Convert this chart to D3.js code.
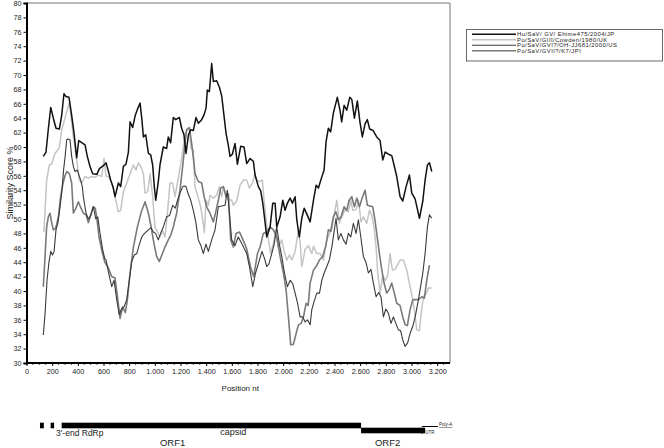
<!DOCTYPE html>
<html><head><meta charset="utf-8">
<script src="https://cdn.jsdelivr.net/npm/d3@7"></script>
<style>html,body{margin:0;padding:0;background:#fff;}svg{display:block;font-family:"Liberation Sans",Arial,sans-serif;}</style>
</head><body>
<svg id="c" width="664" height="448"></svg>
<script>
const seriesNames = ["Hu/SaV/ GV/ Ehime475/2004/JP","Po/SaV/GIII/Cowden/1980/UK","Po/SaV/GVI?/OH-JJ681/2000/US","Po/SaV/GVII?/K7/JPI"];
const yTicks = d3.range(30, 81, 2);
const xTicks = d3.range(0, 3201, 200);
const ehime = [[131,58.7],[152,59.3],[170,62.5],[189,65.5],[209,64.0],[230,62.6],[256,62.5],[274,64.4],[292,67.4],[308,67.0],[331,66.9],[352,64.4],[370,62.0],[391,58.5],[407,60.9],[430,60.6],[456,60.3],[474,58.7],[495,57.3],[516,56.3],[548,56.2],[568,57.0],[599,57.4],[620,57.8],[637,56.7],[656,55.4],[677,54.3],[690,53.1],[716,55.0],[734,54.5],[755,57.3],[775,57.6],[794,59.3],[807,63.5],[827,62.7],[846,64.3],[866,65.3],[885,66.1],[898,64.0],[911,61.4],[929,61.7],[950,59.1],[968,58.9],[983,57.5],[996,54.5],[1007,52.6],[1027,55.2],[1040,57.5],[1066,60.0],[1092,59.8],[1105,61.4],[1123,60.6],[1144,64.1],[1163,63.8],[1191,64.1],[1209,62.6],[1227,61.7],[1243,59.1],[1262,61.7],[1280,62.4],[1300,62.3],[1321,64.1],[1339,63.3],[1365,63.8],[1384,64.5],[1399,65.4],[1409,67.9],[1425,67.7],[1443,71.6],[1456,69.1],[1482,69.2],[1503,68.3],[1521,67.1],[1538,64.5],[1555,61.9],[1573,60.2],[1586,58.7],[1604,59.0],[1625,60.5],[1643,57.6],[1669,60.1],[1695,60.0],[1716,57.7],[1742,58.4],[1768,58.0],[1781,56.1],[1807,54.5],[1825,53.9],[1841,52.2],[1854,50.3],[1872,47.5],[1898,48.9],[1919,52.2],[1937,52.2],[1950,48.9],[1976,50.3],[1997,52.6],[2015,51.2],[2033,52.2],[2054,52.9],[2072,52.2],[2093,53.1],[2106,49.9],[2126,47.5],[2145,50.1],[2164,51.5],[2189,50.5],[2210,49.6],[2236,52.6],[2257,54.7],[2275,54.3],[2293,55.4],[2319,56.8],[2334,60.7],[2352,62.6],[2370,62.1],[2391,64.7],[2422,66.9],[2443,65.1],[2456,63.5],[2475,65.8],[2495,65.1],[2519,66.9],[2535,66.6],[2555,64.0],[2578,66.4],[2598,63.5],[2617,61.4],[2638,63.2],[2656,63.8],[2674,62.5],[2700,62.3],[2729,61.4],[2755,60.9],[2776,58.2],[2795,59.3],[2820,59.0],[2846,58.8],[2864,57.5],[2885,55.9],[2911,53.1],[2932,52.5],[2958,54.5],[2984,56.1],[3002,53.6],[3028,52.8],[3062,50.1],[3088,52.5],[3106,55.4],[3124,57.5],[3140,57.8],[3158,56.6]];
const cowden = [[136,48.2],[157,55.4],[178,57.5],[195,57.6],[222,59.1],[256,59.9],[274,62.4],[297,63.8],[313,64.9],[334,66.1],[352,63.5],[365,61.4],[391,58.2],[411,55.4],[430,55.0],[456,55.9],[482,55.7],[508,55.9],[534,55.8],[560,56.1],[586,55.9],[604,58.4],[620,55.9],[638,55.9],[664,55.0],[690,53.1],[716,51.0],[734,51.2],[755,53.8],[781,55.0],[807,56.3],[833,57.5],[853,56.8],[872,57.8],[890,57.3],[911,56.3],[924,53.6],[945,53.8],[963,56.3],[983,53.1],[1001,48.9],[1020,48.2],[1040,47.5],[1061,48.4],[1079,47.5],[1098,50.8],[1118,55.0],[1139,55.0],[1157,53.1],[1183,55.7],[1201,57.5],[1222,60.0],[1235,61.9],[1253,62.4],[1269,62.6],[1282,59.8],[1300,59.6],[1313,54.5],[1339,52.9],[1357,51.7],[1373,49.9],[1386,48.1],[1399,52.6],[1417,51.9],[1430,53.3],[1456,52.9],[1482,53.3],[1503,54.5],[1521,53.1],[1534,54.5],[1555,53.5],[1573,52.7],[1599,52.6],[1612,51.9],[1638,52.5],[1664,54.7],[1690,55.4],[1716,55.4],[1737,54.3],[1763,55.1],[1781,56.3],[1794,55.4],[1820,55.2],[1838,55.4],[1851,52.6],[1867,49.9],[1885,47.1],[1903,45.2],[1924,46.6],[1942,48.5],[1963,46.1],[1989,47.1],[2007,45.5],[2028,44.3],[2049,45.0],[2067,44.3],[2093,45.5],[2119,48.5],[2132,46.8],[2145,43.4],[2171,45.8],[2197,46.3],[2223,45.2],[2236,46.2],[2262,45.2],[2288,45.2],[2314,44.3],[2340,47.1],[2360,47.9],[2379,48.5],[2399,50.8],[2418,52.6],[2438,49.4],[2456,50.3],[2482,51.3],[2508,51.0],[2527,52.6],[2542,51.2],[2568,51.3],[2586,52.6],[2607,49.6],[2625,50.3],[2651,49.4],[2672,51.2],[2690,50.5],[2708,48.9],[2724,46.1],[2737,42.5],[2755,39.7],[2776,42.2],[2795,41.5],[2813,42.0],[2833,45.2],[2851,42.9],[2872,43.0],[2890,43.6],[2911,44.3],[2937,44.3],[2963,42.9],[2989,40.6],[3010,38.8],[3025,37.0],[3041,34.6],[3062,34.5],[3075,36.9],[3093,39.2],[3110,39.5],[3132,40.4],[3158,40.4]];
const ohjj = [[131,33.9],[145,37.0],[160,41.5],[175,44.0],[189,45.5],[202,45.0],[215,45.5],[230,48.5],[245,49.5],[260,51.5],[274,53.6],[290,57.0],[300,58.5],[313,61.0],[325,61.1],[339,61.0],[352,58.7],[365,57.3],[378,56.6],[397,56.8],[410,56.0],[422,55.4],[435,54.5],[443,53.1],[464,50.8],[482,50.0],[500,50.5],[521,51.7],[540,50.0],[555,50.3],[573,48.0],[594,45.7],[610,44.5],[620,44.3],[640,42.5],[664,40.6],[682,41.5],[703,38.8],[723,36.7],[740,37.5],[760,37.8],[781,38.8],[801,41.5],[820,44.1],[840,45.0],[859,45.2],[880,46.5],[898,47.5],[920,48.0],[950,48.5],[970,48.8],[988,48.2],[1005,48.0],[1027,47.1],[1045,48.0],[1066,48.9],[1092,50.3],[1115,50.5],[1139,51.9],[1160,51.5],[1175,52.5],[1196,53.6],[1217,54.5],[1230,54.6],[1243,54.5],[1260,53.5],[1280,52.6],[1300,51.2],[1320,49.5],[1339,47.1],[1357,46.4],[1378,45.2],[1398,46.5],[1417,45.5],[1443,47.1],[1469,48.5],[1495,51.7],[1521,51.8],[1547,51.9],[1565,54.0],[1580,51.0],[1599,47.1],[1625,46.3],[1650,47.5],[1680,46.5],[1716,45.2],[1737,43.4],[1763,40.6],[1785,42.5],[1810,44.0],[1835,45.5],[1855,44.5],[1872,43.4],[1890,43.8],[1911,45.2],[1930,46.5],[1950,48.9],[1970,46.5],[1989,44.8],[2010,42.5],[2033,40.6],[2055,41.5],[2075,41.0],[2093,39.7],[2112,38.3],[2132,36.4],[2153,36.4],[2171,35.7],[2190,36.0],[2210,35.3],[2223,37.4],[2240,38.5],[2262,39.7],[2283,39.7],[2301,41.5],[2320,42.5],[2340,43.4],[2360,44.3],[2379,46.1],[2395,48.0],[2412,50.1],[2430,47.1],[2450,48.0],[2469,47.1],[2490,46.5],[2508,48.0],[2527,47.5],[2547,49.4],[2568,48.0],[2586,49.9],[2605,47.5],[2625,44.8],[2645,44.0],[2664,42.5],[2684,43.0],[2703,41.1],[2724,39.2],[2745,39.8],[2762,39.2],[2781,36.4],[2800,37.5],[2820,36.9],[2840,35.5],[2859,36.4],[2878,35.5],[2898,34.6],[2915,34.5],[2932,33.2],[2950,32.3],[2970,32.8],[2989,34.1],[3010,35.1],[3030,36.5],[3054,38.8],[3070,40.5],[3088,42.5],[3106,45.2],[3124,48.9],[3140,50.6],[3158,50.1]];
const k7 = [[131,40.6],[145,45.0],[157,48.9],[170,50.3],[183,50.8],[196,49.5],[209,48.5],[222,48.6],[235,49.2],[250,50.5],[266,53.1],[285,55.0],[300,56.0],[313,56.6],[334,56.3],[352,55.0],[365,50.8],[385,51.5],[404,52.4],[425,51.5],[443,50.8],[464,50.6],[482,49.5],[500,50.5],[520,51.7],[535,51.5],[547,50.3],[565,47.5],[586,45.7],[610,44.0],[638,43.2],[664,42.0],[690,41.8],[710,39.0],[729,36.2],[749,37.8],[770,37.0],[786,38.8],[807,42.5],[833,46.1],[864,48.9],[895,51.0],[924,52.4],[950,50.8],[970,49.0],[988,47.1],[1014,44.8],[1035,44.1],[1055,45.0],[1079,46.1],[1105,47.1],[1125,47.8],[1144,48.9],[1170,50.8],[1196,54.0],[1217,57.3],[1235,60.5],[1248,62.4],[1269,62.7],[1287,60.5],[1300,58.5],[1313,56.3],[1339,55.2],[1365,55.0],[1385,53.0],[1404,51.7],[1430,50.8],[1456,49.6],[1475,51.0],[1495,52.6],[1513,54.3],[1534,54.5],[1555,53.1],[1573,53.5],[1591,47.1],[1612,46.1],[1633,48.0],[1660,48.2],[1690,47.0],[1715,45.9],[1745,43.4],[1770,42.0],[1800,45.2],[1820,46.1],[1845,48.0],[1872,48.2],[1898,48.9],[1924,48.5],[1950,47.5],[1976,44.8],[2002,42.5],[2023,40.1],[2041,36.4],[2059,32.5],[2080,32.6],[2101,34.1],[2119,35.3],[2140,35.5],[2158,36.4],[2179,38.3],[2195,38.0],[2210,41.1],[2236,42.9],[2260,43.5],[2282,44.3],[2308,44.8],[2334,46.4],[2352,48.5],[2370,48.3],[2391,50.3],[2410,51.0],[2430,49.9],[2452,50.3],[2475,51.7],[2495,51.2],[2514,52.6],[2535,53.1],[2555,51.7],[2574,52.9],[2595,51.7],[2615,52.9],[2638,54.0],[2656,51.9],[2677,51.8],[2698,51.7],[2714,50.0],[2729,48.0],[2750,45.2],[2768,43.0],[2786,41.1],[2807,39.7],[2829,40.3],[2846,41.1],[2866,39.7],[2885,38.3],[2910,38.0],[2932,36.4],[2950,35.3],[2968,35.2],[2989,37.4],[3010,38.8],[3028,38.8],[3054,38.8],[3080,39.2],[3100,39.0],[3119,41.5],[3140,43.6]];
// genome map segments (nt start, nt end, row)
const genomeBlocks = [[105,135,"top"],[188,215,"top"],[274,2607,"top"],[2607,3106,"low"]];
const genomeLine = [3080,3207];
const genomeLabels = [["3'-end RdRp",230,"a"],["ORF1",1040,"b"],["capsid",1510,"c"],["ORF2",2715,"b"],["3'-UTR",3070,"s"]];

const svg = d3.select("#c");
const x = d3.scaleLinear().domain([0,3300]).range([26.5,450]);
const y = d3.scaleLinear().domain([30,80]).range([363,3]);

// plot frame (top/right)
svg.append("path").attr("d",`M${x(0)},${y(80)}H${x(3300)}V${y(30)}`).attr("fill","none").attr("stroke","#777").attr("stroke-width",1);

const styles = [
  {data:ehime, color:"#111", w:1.5},
  {data:cowden, color:"#c4c4c4", w:1.5},
  {data:ohjj, color:"#3a3a3a", w:1.1},
  {data:k7, color:"#7a7a7a", w:1.6}
];
const line = d3.line().x(d=>x(d[0])).y(d=>y(d[1]));
[1,3,2,0].forEach(i=>{
  svg.append("path").datum(styles[i].data).attr("d",line).attr("fill","none")
    .attr("stroke",styles[i].color).attr("stroke-width",styles[i].w).attr("stroke-linejoin","round");
});

// y axis
const yAx = svg.append("g").attr("transform",`translate(${x(0)},0)`)
  .call(d3.axisLeft(y).tickValues(yTicks).tickSize(3).tickPadding(2).tickFormat(d3.format("d")));
yAx.select(".domain").attr("stroke","#000").attr("stroke-width",2);
yAx.selectAll("text").attr("font-size",7.2).attr("fill","#222").attr("font-family","Liberation Sans, Arial");
// x axis
const xAx = svg.append("g").attr("transform",`translate(0,${y(30)})`)
  .call(d3.axisBottom(x).tickValues(xTicks).tickSize(3).tickPadding(3)
    .tickFormat(d=> d>=1000 ? d3.format(",")(d).replace(",",".") : d));
xAx.select(".domain").attr("d",`M${x(0)},0H${x(3300)}`).attr("stroke","#000").attr("stroke-width",2);
xAx.selectAll("text").attr("font-size",7.2).attr("fill","#222").attr("font-family","Liberation Sans, Arial");
svg.append("g").attr("transform",`translate(0,${y(30)})`)
  .selectAll("line").data(d3.range(50,3300,50).filter(v=>v%200!==0)).join("line")
  .attr("x1",d=>x(d)).attr("x2",d=>x(d)).attr("y1",0).attr("y2",2).attr("stroke","#000").attr("stroke-width",0.7);

// axis titles
svg.append("text").attr("transform",`translate(13,${(y(30)+y(80))/2}) rotate(-90)`).attr("text-anchor","middle")
  .attr("font-size",9).attr("fill","#222").text("Similarity Score %");
svg.append("text").attr("x",(x(0)+x(3300))/2+2).attr("y",391).attr("text-anchor","middle")
  .attr("font-size",8).attr("fill","#222").text("Position nt");

// legend
const lg = svg.append("g");
lg.append("rect").attr("x",466.5).attr("y",29.5).attr("width",196).attr("height",31.5).attr("fill","#fff").attr("stroke","#444").attr("stroke-width",0.8);
seriesNames.forEach((n,i)=>{
  const yy = 34.3 + i*5.5;
  lg.append("line").attr("x1",472).attr("x2",516).attr("y1",yy).attr("y2",yy).attr("stroke",styles[i].color).attr("stroke-width",styles[i].w);
  lg.append("text").attr("x",517).attr("y",yy+2).attr("font-size",5.9).attr("letter-spacing",0.45).attr("fill","#222").text(n);
});

// genome map
const gm = svg.append("g");
gm.selectAll("rect").data(genomeBlocks).join("rect")
  .attr("x",d=>x(d[0])).attr("width",d=>x(d[1])-x(d[0]))
  .attr("y",d=>d[2]==="top"?422.7:427.7).attr("height",5.6).attr("fill","#000");
gm.append("line").attr("x1",x(genomeLine[0])).attr("x2",x(genomeLine[1])).attr("y1",426.5).attr("y2",426.5).attr("stroke","#000").attr("stroke-width",1);
const lblY = {a:436, b:446, c:435, s:434};
const lblS = {a:8.5, b:9.5, c:9, s:4.5};
gm.selectAll("text.g").data(genomeLabels).join("text").attr("class","g")
  .attr("x",d=>x(d[1])).attr("y",d=>lblY[d[2]]).attr("font-size",d=>lblS[d[2]]).attr("fill","#222").text(d=>d[0]);
gm.append("text").attr("x",x(3207)+1).attr("y",426).attr("font-size",4.5).attr("fill","#222").attr("text-decoration","underline").text("Poly-A");
</script>
</body></html>
